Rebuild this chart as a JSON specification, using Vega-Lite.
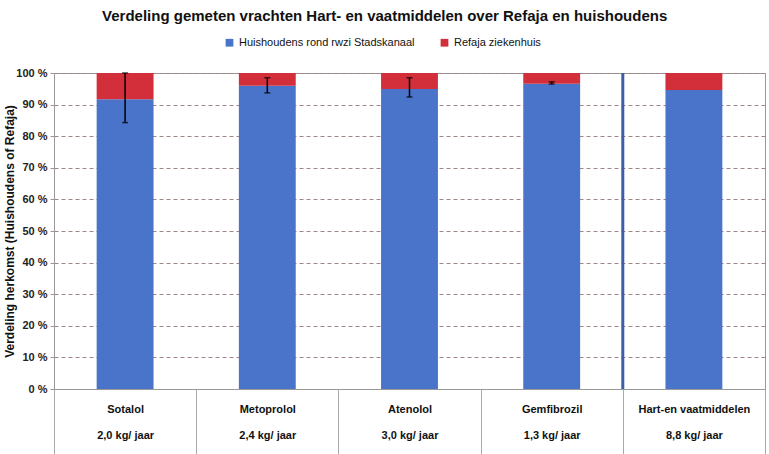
{
  "$schema": "https://vega.github.io/schema/vega-lite/v6.json",
  "width": 711,
  "height": 316,
  "autosize": {"type": "none"},
  "padding": {"left": 54, "top": 73, "right": 4, "bottom": 65},
  "background": "white",
  "config": {
    "font": "Liberation Sans",
    "view": {"stroke": "#999999", "strokeWidth": 1}
  },
  "title": {
    "text": "Verdeling gemeten vrachten Hart- en vaatmiddelen over Refaja en huishoudens",
    "fontSize": 15,
    "fontWeight": "bold",
    "color": "#111111",
    "anchor": "middle",
    "frame": "bounds",
    "offset": 13
  },
  "datasets": {
    "bars": [
      {"cat": "Sotalol|2,0 kg/ jaar", "bron": "Huishoudens rond rwzi Stadskanaal", "order": 1, "pct": 91.7},
      {"cat": "Sotalol|2,0 kg/ jaar", "bron": "Refaja ziekenhuis", "order": 2, "pct": 8.3},
      {"cat": "Metoprolol|2,4 kg/ jaar", "bron": "Huishoudens rond rwzi Stadskanaal", "order": 1, "pct": 96.0},
      {"cat": "Metoprolol|2,4 kg/ jaar", "bron": "Refaja ziekenhuis", "order": 2, "pct": 4.0},
      {"cat": "Atenolol|3,0 kg/ jaar", "bron": "Huishoudens rond rwzi Stadskanaal", "order": 1, "pct": 94.9},
      {"cat": "Atenolol|3,0 kg/ jaar", "bron": "Refaja ziekenhuis", "order": 2, "pct": 5.1},
      {"cat": "Gemfibrozil|1,3 kg/ jaar", "bron": "Huishoudens rond rwzi Stadskanaal", "order": 1, "pct": 96.6},
      {"cat": "Gemfibrozil|1,3 kg/ jaar", "bron": "Refaja ziekenhuis", "order": 2, "pct": 3.4},
      {"cat": "Hart-en vaatmiddelen|8,8 kg/ jaar", "bron": "Huishoudens rond rwzi Stadskanaal", "order": 1, "pct": 94.6},
      {"cat": "Hart-en vaatmiddelen|8,8 kg/ jaar", "bron": "Refaja ziekenhuis", "order": 2, "pct": 5.4}
    ],
    "errors": [
      {"cat": "Sotalol|2,0 kg/ jaar", "pct": 84.3, "hi": 100},
      {"cat": "Metoprolol|2,4 kg/ jaar", "pct": 93.7, "hi": 98.5},
      {"cat": "Atenolol|3,0 kg/ jaar", "pct": 92.4, "hi": 98.5},
      {"cat": "Gemfibrozil|1,3 kg/ jaar", "pct": 96.5, "hi": 97.2}
    ],
    "caps": [
      {"cat": "Sotalol|2,0 kg/ jaar", "pct": 84.3},
      {"cat": "Sotalol|2,0 kg/ jaar", "pct": 100},
      {"cat": "Metoprolol|2,4 kg/ jaar", "pct": 93.7},
      {"cat": "Metoprolol|2,4 kg/ jaar", "pct": 98.5},
      {"cat": "Atenolol|3,0 kg/ jaar", "pct": 92.4},
      {"cat": "Atenolol|3,0 kg/ jaar", "pct": 98.5},
      {"cat": "Gemfibrozil|1,3 kg/ jaar", "pct": 96.5},
      {"cat": "Gemfibrozil|1,3 kg/ jaar", "pct": 97.2}
    ],
    "separator": [
      {"cat": "Hart-en vaatmiddelen|8,8 kg/ jaar", "pct": 0, "hi": 100}
    ]
  },
  "encoding": {
    "x": {
      "field": "cat", "type": "nominal", "sort": null,
      "scale": {"paddingInner": 0, "paddingOuter": 0},
      "axis": {
        "title": null,
        "labelAngle": 0,
        "labelExpr": "split(datum.label, '|')",
        "labelLineHeight": 26,
        "labelPadding": -52,
        "labelFontSize": 11,
        "labelFontWeight": "bold",
        "labelColor": "#111111",
        "labelBaseline": "top",
        "tickBand": "extent",
        "tickSize": 66,
        "tickColor": "#aaaaaa",
        "domainColor": "#999999"
      }
    },
    "y": {
      "field": "pct", "type": "quantitative",
      "scale": {"domain": [0, 100], "nice": false},
      "axis": {
        "title": "Verdeling herkomst (Huishoudens of Refaja)",
        "titleFontSize": 12,
        "titleFontWeight": "bold",
        "titleColor": "#111111",
        "titlePadding": -1,
        "values": [0, 10, 20, 30, 40, 50, 60, 70, 80, 90, 100],
        "tickCount": 20,
        "labelOverlap": false,
        "labelExpr": "datum.value + ' %'",
        "labelFontSize": 11,
        "labelFontWeight": "bold",
        "labelColor": "#222222",
        "labelPadding": 3,
        "tickSize": 4,
        "tickColor": "#999999",
        "domainColor": "#999999",
        "grid": true,
        "gridColor": "#a08585",
        "gridDash": [4, 3],
        "gridWidth": 1
      }
    }
  },
  "layer": [
    {
      "data": {"name": "bars"},
      "mark": {"type": "bar", "width": {"band": 0.4}},
      "encoding": {
        "color": {
          "field": "bron", "type": "nominal",
          "scale": {
            "domain": ["Huishoudens rond rwzi Stadskanaal", "Refaja ziekenhuis"],
            "range": ["#4a74c9", "#d22f3a"]
          },
          "legend": {
            "title": null,
            "orient": "none",
            "direction": "horizontal",
            "legendX": 170,
            "legendY": -36,
            "symbolType": "square",
            "symbolSize": 60,
            "symbolStrokeWidth": 0,
            "labelFontSize": 11,
            "labelLimit": 300,
            "labelColor": "#111111",
            "columnPadding": 24
          }
        },
        "order": {"field": "order", "type": "quantitative"}
      }
    },
    {
      "data": {"name": "errors"},
      "mark": {"type": "rule", "color": "#000000", "strokeWidth": 1.5},
      "encoding": {
        "y2": {"field": "hi"}
      }
    },
    {
      "data": {"name": "caps"},
      "mark": {"type": "tick", "color": "#000000", "size": 6, "thickness": 1.5},
      "encoding": {}
    },
    {
      "data": {"name": "separator"},
      "mark": {"type": "rule", "color": "#3d5fa8", "strokeWidth": 3},
      "encoding": {
        "x": {"field": "cat", "type": "nominal", "sort": null, "bandPosition": 0},
        "y2": {"field": "hi"}
      }
    }
  ]
}
